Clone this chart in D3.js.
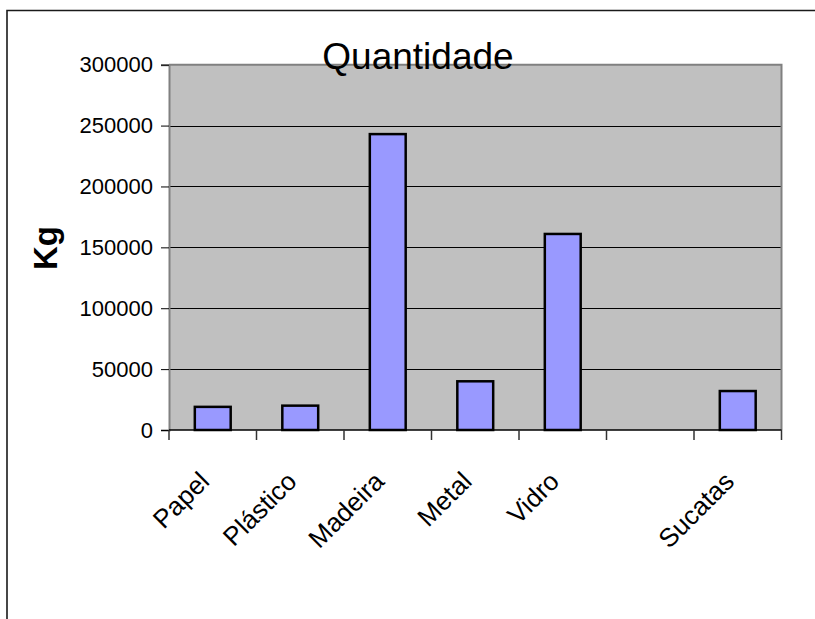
<!DOCTYPE html>
<html lang="pt">
<head>
<meta charset="utf-8">
<title>Quantidade</title>
<script src="https://d3js.org/d3.v7.min.js"></script>
<style>
  body { margin: 0; background: #fff; }
  svg { display: block; font-family: Arial, "Liberation Sans", sans-serif; }
</style>
</head>
<body>
<svg id="chart" width="815" height="619"></svg>
<script>
// data
const categories = ["Papel", "Plástico", "Madeira", "Metal", "Vidro", "", "Sucatas"];
const quantidade = [19000, 20000, 243000, 40000, 161000, null, 32000];
const yTicks = [0, 50000, 100000, 150000, 200000, 250000, 300000];

const plot = {left: 169, right: 781.5, top: 64.7, bottom: 430};

const svg = d3.select("#chart");

// outer frame (only top and left edges visible)
svg.append("path")
  .attr("d", "M7,619V10.5H815")
  .attr("fill", "none")
  .attr("stroke", "#1a1a1a")
  .attr("stroke-width", 1.6);

const x = d3.scaleBand()
  .domain(categories)
  .range([plot.left, plot.right])
  .padding(0);

const y = d3.scaleLinear()
  .domain([0, 300000])
  .range([plot.bottom, plot.top]);

// plot area
svg.append("rect")
  .attr("x", plot.left)
  .attr("y", plot.top)
  .attr("width", plot.right - plot.left)
  .attr("height", plot.bottom - plot.top)
  .attr("fill", "#c0c0c0");

// gridlines
svg.append("g")
  .selectAll("line")
  .data(yTicks.filter(d => d > 0 && d < 300000))
  .enter().append("line")
    .attr("x1", plot.left)
    .attr("x2", plot.right)
    .attr("y1", d => Math.round(y(d)) + 0.5)
    .attr("y2", d => Math.round(y(d)) + 0.5)
    .attr("stroke", "#000")
    .attr("stroke-width", 1);

// plot border top + right (gray)
svg.append("path")
  .attr("d", "M" + plot.left + "," + plot.top + "H" + plot.right + "V" + plot.bottom)
  .attr("fill", "none")
  .attr("stroke", "#808080")
  .attr("stroke-width", 2);

// bars
const barW = x.bandwidth() * 0.41;
svg.append("g")
  .selectAll("rect")
  .data(categories.map((c, i) => ({c: c, v: quantidade[i]})).filter(d => d.v != null))
  .enter().append("rect")
    .attr("x", d => x(d.c) + (x.bandwidth() - barW) / 2)
    .attr("y", d => y(d.v))
    .attr("width", barW)
    .attr("height", d => y(0) - y(d.v))
    .attr("fill", "#9999ff")
    .attr("stroke", "#000")
    .attr("stroke-width", 2.5);

// y axis
const yAxis = svg.append("g")
  .attr("transform", "translate(" + plot.left + ",0)")
  .call(d3.axisLeft(y).tickValues(yTicks).tickSize(8).tickPadding(8).tickFormat(d3.format("d")));
yAxis.select(".domain").attr("stroke", "#808080").attr("stroke-width", 2);
yAxis.selectAll(".tick line").attr("stroke", "#000");
yAxis.selectAll("text")
  .attr("font-family", "Arial, 'Liberation Sans', sans-serif")
  .attr("font-size", 22)
  .attr("fill", "#000");

// x axis line + ticks at category boundaries
const bounds = categories.map(c => x(c)).concat([plot.right]);
svg.append("line")
  .attr("x1", plot.left).attr("x2", plot.right)
  .attr("y1", plot.bottom).attr("y2", plot.bottom)
  .attr("stroke", "#000").attr("stroke-width", 1.5);
svg.append("g")
  .selectAll("line")
  .data(bounds)
  .enter().append("line")
    .attr("x1", d => d).attr("x2", d => d)
    .attr("y1", plot.bottom).attr("y2", plot.bottom + 10)
    .attr("stroke", "#333").attr("stroke-width", 1.5);

// category labels, rotated
svg.append("g")
  .selectAll("text")
  .data(categories)
  .enter().append("text")
    .attr("text-anchor", "end")
    .attr("font-size", 26)
    .attr("fill", "#000")
    .attr("transform", d => "translate(" + (x(d) + x.bandwidth() / 2 - 2) + ",483) rotate(-45)")
    .text(d => d);

// title
svg.append("text")
  .attr("x", 418)
  .attr("y", 68.5)
  .attr("text-anchor", "middle")
  .attr("font-size", 37)
  .text("Quantidade");

// y axis title
svg.append("text")
  .attr("transform", "translate(57,248) rotate(-90)")
  .attr("text-anchor", "middle")
  .attr("font-size", 33)
  .attr("font-weight", "bold")
  .text("Kg");
</script>
</body>
</html>
